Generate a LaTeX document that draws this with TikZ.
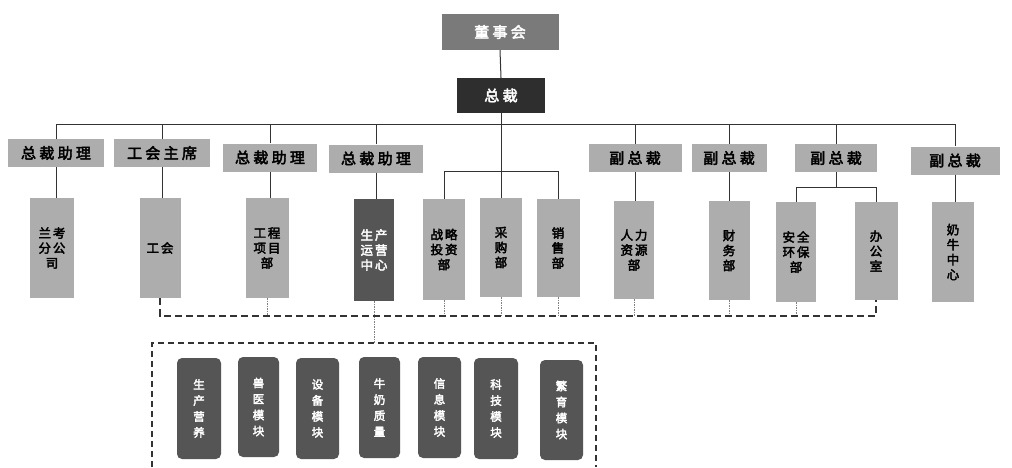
\documentclass[tikz,border=0pt]{standalone}
\usepackage{fontspec}
\newfontfamily\cjk[FakeBold=3,LetterSpace=15]{Noto Sans CJK SC}
\newfontfamily\cjkwide[FakeBold=3,LetterSpace=22]{Noto Sans CJK SC}
\definecolor{lgray}{HTML}{ADADAD}
\definecolor{mgray}{HTML}{555555}
\definecolor{tgray}{HTML}{7A7A7A}
\definecolor{dgray}{HTML}{2E2E2E}
\definecolor{lineC}{HTML}{333333}
\begin{document}
\begin{tikzpicture}[x=1pt,y=-1pt,
  box/.style={inner sep=0pt, align=center},
  topbox/.style={box, font=\cjkwide\fontsize{15}{18}\selectfont, text=white},
  rolebox/.style={box, fill=lgray, text=black, font=\cjkwide\fontsize{15}{18}\selectfont, minimum height=28pt},
  deptbox/.style={box, fill=lgray, text=black, font=\cjk\fontsize{12.5}{15}\selectfont, minimum width=42pt, minimum height=100pt},
  modbox/.style={box, fill=mgray, text=white, rounded corners=5pt, font=\cjk\fontsize{11.5}{16}\selectfont, minimum width=43pt, minimum height=101pt},
  solidline/.style={draw=lineC, line width=1pt},
  mainDash/.style={draw=lineC, line width=1.8pt, dash pattern=on 7pt off 4pt},
  frameDash/.style={draw=lineC, line width=1.4pt, dash pattern=on 6pt off 4pt},
  stub/.style={draw=gray, line width=0.9pt, dash pattern=on 1.5pt off 1pt}
]
\useasboundingbox[fill=white] (0,0) rectangle (1012,467);

% top
\node[topbox, fill=tgray, minimum width=117pt, minimum height=36pt] (dsh) at (500,32) {董事会};
\node[topbox, fill=dgray, minimum width=88pt, minimum height=35pt] (zc) at (501,95.5) {总裁};

% second row
\node[rolebox, minimum width=96pt] (a1) at (56,153) {总裁助理};
\node[rolebox, minimum width=96pt] (a2) at (162,153) {工会主席};
\node[rolebox, minimum width=94pt] (a3) at (270,157.5) {总裁助理};
\node[rolebox, minimum width=94pt] (a4) at (376,158.5) {总裁助理};
\node[rolebox, minimum width=93pt] (v1) at (635,158) {副总裁};
\node[rolebox, minimum width=75pt] (v2) at (729,158) {副总裁};
\node[rolebox, minimum width=82pt] (v3) at (836,158) {副总裁};
\node[rolebox, minimum width=89pt] (v4) at (955,160.5) {副总裁};

% third row
\node[deptbox, minimum width=44pt] (d1) at (52,248) {兰考\\分公\\司};
\node[deptbox, minimum width=41pt] (d2) at (160,248) {工会};
\node[deptbox, minimum width=43pt] (d3) at (267,248) {工程\\项目\\部};
\node[deptbox, fill=mgray, text=white, minimum width=40pt, minimum height=102pt] (d4) at (374,250) {生产\\运营\\中心};
\node[deptbox, minimum height=101pt] (d5) at (444,249.5) {战略\\投资\\部};
\node[deptbox, minimum height=99pt] (d6) at (501,247.5) {采\\购\\部};
\node[deptbox, minimum width=43pt, minimum height=98pt] (d7) at (558,248) {销\\售\\部};
\node[deptbox, minimum width=40pt, minimum height=98pt] (d8) at (634,250) {人力\\资源\\部};
\node[deptbox, minimum width=41pt, minimum height=99pt] (d9) at (729,250.5) {财\\务\\部};
\node[deptbox, minimum width=40pt] (d10) at (796,252) {安全\\环保\\部};
\node[deptbox, minimum width=43pt, minimum height=98pt] (d11) at (876,251) {办\\公\\室};
\node[deptbox] (d12) at (953,252) {奶\\牛\\中\\心};

% modules
\node[modbox, minimum width=44pt] (b1) at (199,408.5) {生\\产\\营\\养};
\node[modbox, minimum width=41pt, minimum height=100pt] (b2) at (258.5,407) {兽\\医\\模\\块};
\node[modbox] (b3) at (317.5,408.5) {设\\备\\模\\块};
\node[modbox, minimum width=41pt] (b4) at (379.5,407.5) {牛\\奶\\质\\量};
\node[modbox] (b5) at (439.5,407.5) {信\\息\\模\\块};
\node[modbox, minimum width=44pt] (b6) at (496,408.5) {科\\技\\模\\块};
\node[modbox, minimum height=100pt] (b7) at (561.5,410) {繁\\育\\模\\块};

% helper coordinates
\coordinate (bus) at (0,124);
\coordinate (sub) at (0,171);
\coordinate (sub2) at (0,187);
\coordinate (dy) at (0,316);
\coordinate (ftop) at (0,343);

% solid connectors
\draw[solidline] (dsh.south) -- (zc.north);
\draw[solidline] (zc.south) -- (d6.north);
\draw[solidline] (a1.north) |- (bus -| v4.north) -- (v4.north);
\foreach \n in {a2,a3,a4,v1,v2,v3} \draw[solidline] (\n.north) -- (\n.north |- bus);
\draw[solidline] (d5.north) |- (sub -| d7.north) -- (d7.north);
\draw[solidline] (v3.south) -- (v3.south |- sub2);
\draw[solidline] (d10.north) |- (sub2 -| d11.north) -- (d11.north);
\draw[solidline] (a1.south) -- (a1.south |- d1.north);
\draw[solidline] (a2.south) -- (a2.south |- d2.north);
\draw[solidline] (a3.south) -- (a3.south |- d3.north);
\draw[solidline] (a4.south) -- (a4.south |- d4.north);
\draw[solidline] (v1.south) -- (v1.south |- d8.north);
\draw[solidline] (v2.south) -- (v2.south |- d9.north);
\draw[solidline] (v4.south) -- (v4.south |- d12.north);

% dashed connectors
\foreach \n in {d3,d5,d6,d7,d8,d9,d10} \draw[stub] (\n.south) -- (\n.south |- dy);
\draw[stub] (d4.south) -- (d4.south |- ftop);
\draw[mainDash] (d2.south) |- (dy -| d11.south) -- (d11.south);
\draw[frameDash] (152,467) -- (152,343) -- (596,343) -- (596,467);
\end{tikzpicture}
\end{document}
